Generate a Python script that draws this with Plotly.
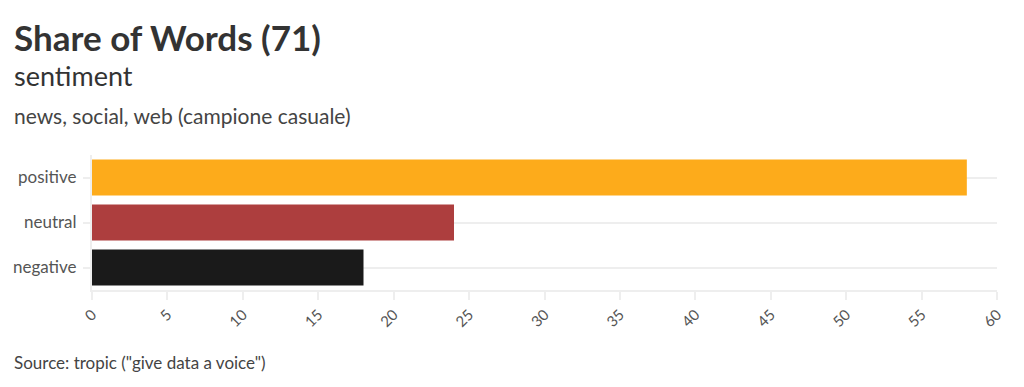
import plotly.graph_objects as go

categories = ["positive", "neutral", "negative"]
values = [58, 24, 18]
colors = ["#FDAB1B", "#AD3E3E", "#1A1A1A"]
x_ticks = list(range(0, 61, 5))

title = "Share of Words (71)"
subtitle = "sentiment"
subtitle2 = "news, social, web (campione casuale)"
source = 'Source: tropic ("give data a voice")'

FONT = "Lato"

# page body has an 8px offset; work in screen coordinates
OFF = 8
W, H = 1024, 387
left, right, top, bottom = 92, 997, 155, 290  # screen px of plot area
pl = left - OFF
pt = top - OFF
pr = W - (right - OFF)
pb = H - (bottom - OFF)
pw, ph = W - pl - pr, H - pt - pb


def px(x):
    return (x - OFF - pl) / pw


def py(y):
    return (H - pb - (y - OFF)) / ph


fig = go.Figure(go.Bar(
    x=values, y=categories, orientation="h",
    marker=dict(color=colors, line=dict(width=0)),
    hoverinfo="x+y",
))

fig.update_layout(
    width=W, height=H,
    margin=dict(l=pl, r=pr, t=pt, b=pb, autoexpand=False),
    paper_bgcolor="white", plot_bgcolor="white",
    font=dict(family=FONT, color="#555"),
    bargap=0.2,
    showlegend=False,
    xaxis=dict(
        range=[0, 60], tickvals=x_ticks, tickangle=-45,
        showgrid=False, zeroline=False, automargin=False,
        showline=True, linecolor="#eeeeee", linewidth=2,
        ticks="outside", ticklen=8, tickcolor="#eeeeee", tickwidth=2,
        tickfont=dict(size=15, color="#555"),
        fixedrange=True,
    ),
    yaxis=dict(
        categoryorder="array", categoryarray=categories[::-1],
        showgrid=True, gridcolor="#eeeeee", gridwidth=2,
        zeroline=False, automargin=False,
        showline=True, linecolor="#eeeeee", linewidth=2,
        ticks="outside", ticklen=7, tickcolor="#eeeeee", tickwidth=2,
        ticklabelstandoff=3,
        tickfont=dict(size=17, color="#555"),
        fixedrange=True,
    ),
)

fig.add_annotation(text=f"<b>{title}</b>", x=px(12), y=py(37), xref="paper", yref="paper",
                   xanchor="left", yanchor="middle", showarrow=False,
                   font=dict(family=FONT, size=35, color="#333"))
fig.add_annotation(text=subtitle, x=px(12), y=py(75), xref="paper", yref="paper",
                   xanchor="left", yanchor="middle", showarrow=False,
                   font=dict(family=FONT, size=27, color="#333"))
fig.add_annotation(text=subtitle2, x=px(12), y=py(115), xref="paper", yref="paper",
                   xanchor="left", yanchor="middle", showarrow=False,
                   font=dict(family=FONT, size=21, color="#444"))
fig.add_annotation(text=source, x=px(12), y=py(362), xref="paper", yref="paper",
                   xanchor="left", yanchor="middle", showarrow=False,
                   font=dict(family=FONT, size=17, color="#444"))

fig.write_html("out.html", config={"displayModeBar": False})
